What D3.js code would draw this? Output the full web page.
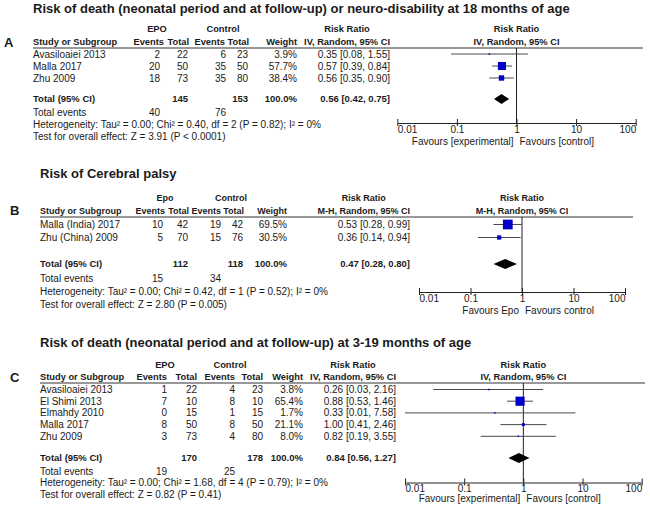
<!DOCTYPE html>
<html>
<head>
<meta charset="utf-8">
<script src="https://cdn.jsdelivr.net/npm/d3@7"></script>
<style>
  body { margin: 0; background: #fff; }
  svg text { font-family: "Liberation Sans", Arial, sans-serif; fill: #1a1a1a; }
</style>
</head>
<body>
<svg id="chart" width="650" height="505"></svg>
<script>
// ---- data: panel A (death or neuro-disability at 18 months) ----
var titleA = "Risk of death (neonatal period and at follow-up) or neuro-disability at 18 months of age";
var studiesA = ["Avasiloaiei 2013", "Malla 2017", "Zhu 2009"];
var epoEventsA = [2, 20, 18];
var epoTotalA = [22, 50, 73];
var ctrlEventsA = [6, 35, 35];
var ctrlTotalA = [23, 50, 80];
var weightA = [3.9, 57.7, 38.4];
var rrA = [0.35, 0.57, 0.56];
var loA = [0.08, 0.39, 0.35];
var hiA = [1.55, 0.84, 0.90];
var totalA = [145, 153];          // EPO total, control total
var totalEventsA = [40, 76];
var pooledA = [0.56, 0.42, 0.75];  // rr, lo, hi
var hetA = "Heterogeneity: Tau\u00b2 = 0.00; Chi\u00b2 = 0.40, df = 2 (P = 0.82); I\u00b2 = 0%";
var testA = "Test for overall effect: Z = 3.91 (P < 0.0001)";

// ---- data: panel B (cerebral palsy) ----
var titleB = "Risk of Cerebral palsy";
var studiesB = ["Malla (India) 2017", "Zhu (China) 2009"];
var epoEventsB = [10, 5];
var epoTotalB = [42, 70];
var ctrlEventsB = [19, 15];
var ctrlTotalB = [42, 76];
var weightB = [69.5, 30.5];
var rrB = [0.53, 0.36];
var loB = [0.28, 0.14];
var hiB = [0.99, 0.94];
var totalB = [112, 118];
var totalEventsB = [15, 34];
var pooledB = [0.47, 0.28, 0.80];
var hetB = "Heterogeneity: Tau\u00b2 = 0.00; Chi\u00b2 = 0.42, df = 1 (P = 0.52); I\u00b2 = 0%";
var testB = "Test for overall effect: Z = 2.80 (P = 0.005)";

// ---- data: panel C (death at 3-19 months) ----
var titleC = "Risk of death (neonatal period and at follow-up) at 3-19 months of age";
var studiesC = ["Avasiloaiei 2013", "El Shimi 2013", "Elmahdy 2010", "Malla 2017", "Zhu 2009"];
var epoEventsC = [1, 7, 0, 8, 3];
var epoTotalC = [22, 10, 15, 50, 73];
var ctrlEventsC = [4, 8, 1, 8, 4];
var ctrlTotalC = [23, 10, 15, 50, 80];
var weightC = [3.8, 65.4, 1.7, 21.1, 8.0];
var rrC = [0.26, 0.88, 0.33, 1.00, 0.82];
var loC = [0.03, 0.53, 0.01, 0.41, 0.19];
var hiC = [2.16, 1.46, 7.58, 2.46, 3.55];
var totalC = [170, 178];
var totalEventsC = [19, 25];
var pooledC = [0.84, 0.56, 1.27];
var hetC = "Heterogeneity: Tau\u00b2 = 0.00; Chi\u00b2 = 1.68, df = 4 (P = 0.79); I\u00b2 = 0%";
var testC = "Test for overall effect: Z = 0.82 (P = 0.41)";

// shared axis ticks
var tickValues = [0.01, 0.1, 1, 10, 100];
var tickLabels = ["0.01", "0.1", "1", "10", "100"];

var panels = [
  { letter: "A", title: titleA, group: "EPO", method: "IV, Random, 95% CI",
    studies: studiesA, epoEv: epoEventsA, epoTot: epoTotalA, ctrlEv: ctrlEventsA, ctrlTot: ctrlTotalA,
    weight: weightA, rr: rrA, lo: loA, hi: hiA, total: totalA, totalEvents: totalEventsA, pooled: pooledA,
    het: hetA, test: testA, favours: ["Favours [experimental]", "Favours [control]"],
    // layout
    letterX: 4, left: 33, titleY: 8, hdr1: 29, hdr2: 42, lineY: 48, rowTop: 54, rowStep: 12,
    totalY: 99, eventsY: 112.5, hetY: 124, testY: 136, axisY: 123, favY: 141, hs: 9.3,
    colHead: [164, 189, 225, 249, 297], colVal: [160, 188, 226, 248, 297], grpX: [157, 223],
    rrRight: 390, plot: [397.3, 635.7], lineEnd: 643 },
  { letter: "B", title: titleB, group: "Epo", method: "M-H, Random, 95% CI",
    studies: studiesB, epoEv: epoEventsB, epoTot: epoTotalB, ctrlEv: ctrlEventsB, ctrlTot: ctrlTotalB,
    weight: weightB, rr: rrB, lo: loB, hi: hiB, total: totalB, totalEvents: totalEventsB, pooled: pooledB,
    het: hetB, test: testB, favours: ["Favours Epo", "Favours control"],
    letterX: 10, left: 40, titleY: 173, hdr1: 197.5, hdr2: 210.5, lineY: 217, rowTop: 224.5, rowStep: 13,
    totalY: 264, eventsY: 278, hetY: 291, testY: 304, axisY: 292, favY: 310.5, hs: 9,
    colHead: [165, 189, 221, 244, 287], colVal: [163, 188, 221, 243, 287], grpX: [165, 231],
    rrRight: 410, plot: [419, 625], lineEnd: 633 },
  { letter: "C", title: titleC, group: "EPO", method: "IV, Random, 95% CI",
    studies: studiesC, epoEv: epoEventsC, epoTot: epoTotalC, ctrlEv: ctrlEventsC, ctrlTot: ctrlTotalC,
    weight: weightC, rr: rrC, lo: loC, hi: hiC, total: totalC, totalEvents: totalEventsC, pooled: pooledC,
    het: hetC, test: testC, favours: ["Favours [experimental]", "Favours [control]"],
    letterX: 10, left: 40, titleY: 342, hdr1: 364.5, hdr2: 377, lineY: 383, rowTop: 389.5, rowStep: 11.7,
    totalY: 458, eventsY: 471, hetY: 482.5, testY: 494, axisY: 482.5, favY: 498.5, hs: 9.3,
    colHead: [167, 197, 235, 263, 303], colVal: [167, 197, 235, 263, 303], grpX: [165, 230],
    rrRight: 396, plot: [405, 641.7], lineEnd: 645 }
];

var svg = d3.select("#chart");
var f2 = d3.format(".2f");
var f1 = d3.format(".1f");
var sizeScale = d3.scaleLinear().domain([0, 100]).range([0, 14]);

function txt(g, x, y, s, opts) {
  opts = opts || {};
  return g.append("text")
    .attr("x", x).attr("y", y).attr("dy", "0.35em")
    .attr("text-anchor", opts.anchor || "start")
    .attr("font-weight", opts.bold ? "bold" : "normal")
    .style("font-size", (opts.size || 10) + "px")
    .text(s);
}

function rrText(r, l, h) {
  return f2(r) + " [" + f2(l) + ", " + f2(h) + "]";
}

function drawPanel(p) {
  var g = svg.append("g");
  var n = p.studies.length;
  var x = d3.scaleLog().domain([0.01, 100]).range(p.plot);
  var y = d3.scaleLinear().domain([0, 1]).range([p.rowTop, p.rowTop + p.rowStep]);
  var x1 = x(1);
  var hs = p.hs; // header font size

  // title and panel letter
  txt(g, p.left, p.titleY, p.title, { bold: true, size: 13 });
  txt(g, p.letterX, p.hdr2, p.letter, { bold: true, size: 13 });

  // header
  txt(g, p.grpX[0], p.hdr1, p.group, { bold: true, anchor: "middle", size: hs });
  txt(g, p.grpX[1], p.hdr1, "Control", { bold: true, anchor: "middle", size: hs });
  txt(g, p.left, p.hdr2, "Study or Subgroup", { bold: true, size: hs });
  ["Events", "Total", "Events", "Total", "Weight"].forEach(function(h, i) {
    txt(g, p.colHead[i], p.hdr2, h, { bold: true, anchor: "end", size: hs });
  });
  var m = txt(g, p.rrRight, p.hdr2, p.method, { bold: true, anchor: "end", size: hs });
  var mw = m.node().getComputedTextLength();
  txt(g, p.rrRight - mw / 2, p.hdr1, "Risk Ratio", { bold: true, anchor: "middle", size: hs });
  txt(g, x1, p.hdr1, "Risk Ratio", { bold: true, anchor: "middle", size: hs });
  txt(g, x1, p.hdr2, p.method, { bold: true, anchor: "middle", size: hs });

  g.append("line")
    .attr("x1", p.left).attr("x2", p.lineEnd)
    .attr("y1", p.lineY).attr("y2", p.lineY)
    .attr("stroke", "#333").attr("stroke-width", 1);

  // study rows
  d3.range(n).forEach(function(i) {
    var yy = y(i);
    txt(g, p.left, yy, p.studies[i]);
    txt(g, p.colVal[0], yy, p.epoEv[i], { anchor: "end" });
    txt(g, p.colVal[1], yy, p.epoTot[i], { anchor: "end" });
    txt(g, p.colVal[2], yy, p.ctrlEv[i], { anchor: "end" });
    txt(g, p.colVal[3], yy, p.ctrlTot[i], { anchor: "end" });
    txt(g, p.colVal[4], yy, f1(p.weight[i]) + "%", { anchor: "end" });
    txt(g, p.rrRight, yy, rrText(p.rr[i], p.lo[i], p.hi[i]), { anchor: "end" });
  });

  // vertical line at RR = 1
  g.append("line")
    .attr("x1", x1).attr("x2", x1)
    .attr("y1", p.lineY).attr("y2", p.axisY)
    .attr("stroke", "#222").attr("stroke-width", 1);

  // confidence intervals and squares
  g.selectAll(".ci").data(d3.range(n)).join("line")
    .attr("class", "ci")
    .attr("x1", function(i) { return x(p.lo[i]); })
    .attr("x2", function(i) { return x(p.hi[i]); })
    .attr("y1", function(i) { return y(i); })
    .attr("y2", function(i) { return y(i); })
    .attr("stroke", "#4a4a4a").attr("stroke-width", 1);

  function side(i) { return Math.max(1.5, sizeScale(p.weight[i])); }
  g.selectAll(".sq").data(d3.range(n)).join("rect")
    .attr("class", "sq")
    .attr("x", function(i) { return x(p.rr[i]) - side(i) / 2; })
    .attr("y", function(i) { return y(i) - side(i) / 2; })
    .attr("width", side)
    .attr("height", side)
    .attr("fill", "#0000c8");

  // total row
  txt(g, p.left, p.totalY, "Total (95% CI)", { bold: true, size: 9.5 });
  txt(g, p.colVal[1], p.totalY, p.total[0], { bold: true, anchor: "end", size: 9.5 });
  txt(g, p.colVal[3], p.totalY, p.total[1], { bold: true, anchor: "end", size: 9.5 });
  txt(g, p.colVal[4], p.totalY, "100.0%", { bold: true, anchor: "end", size: 9.5 });
  txt(g, p.rrRight, p.totalY, rrText(p.pooled[0], p.pooled[1], p.pooled[2]), { bold: true, anchor: "end", size: 9.5 });

  var dy = 5;
  g.append("path")
    .attr("d", "M" + x(p.pooled[1]) + "," + p.totalY +
               "L" + x(p.pooled[0]) + "," + (p.totalY - dy) +
               "L" + x(p.pooled[2]) + "," + p.totalY +
               "L" + x(p.pooled[0]) + "," + (p.totalY + dy) + "Z")
    .attr("fill", "#000");

  txt(g, p.left, p.eventsY, "Total events");
  txt(g, p.colVal[0], p.eventsY, p.totalEvents[0], { anchor: "end" });
  txt(g, p.colVal[2], p.eventsY, p.totalEvents[1], { anchor: "end" });
  txt(g, p.left, p.hetY, p.het);
  txt(g, p.left, p.testY, p.test);

  // axis
  var axis = d3.axisBottom(x).tickValues(tickValues).tickSizeInner(3).tickSizeOuter(0)
    .tickFormat(function(d, i) { return tickLabels[i]; });
  var ax = g.append("g").attr("transform", "translate(0," + p.axisY + ")").call(axis);
  ax.select(".domain").attr("stroke", "#222");
  ax.selectAll(".tick line").attr("stroke", "#222");
  ax.selectAll(".tick").append("line").attr("y2", -4).attr("stroke", "#222");
  ax.selectAll(".tick text")
    .attr("y", 2.5)
    .style("font-size", "10px")
    .style("font-family", "'Liberation Sans', Arial, sans-serif")
    .attr("fill", "#1a1a1a")
    .attr("text-anchor", function(d, i) { return i === 0 ? "start" : (i === tickValues.length - 1 ? "end" : "middle"); });

  txt(g, x1 - 3, p.favY, p.favours[0], { anchor: "end" });
  txt(g, x1 + 3, p.favY, p.favours[1]);
}

panels.forEach(drawPanel);
</script>
</body>
</html>
